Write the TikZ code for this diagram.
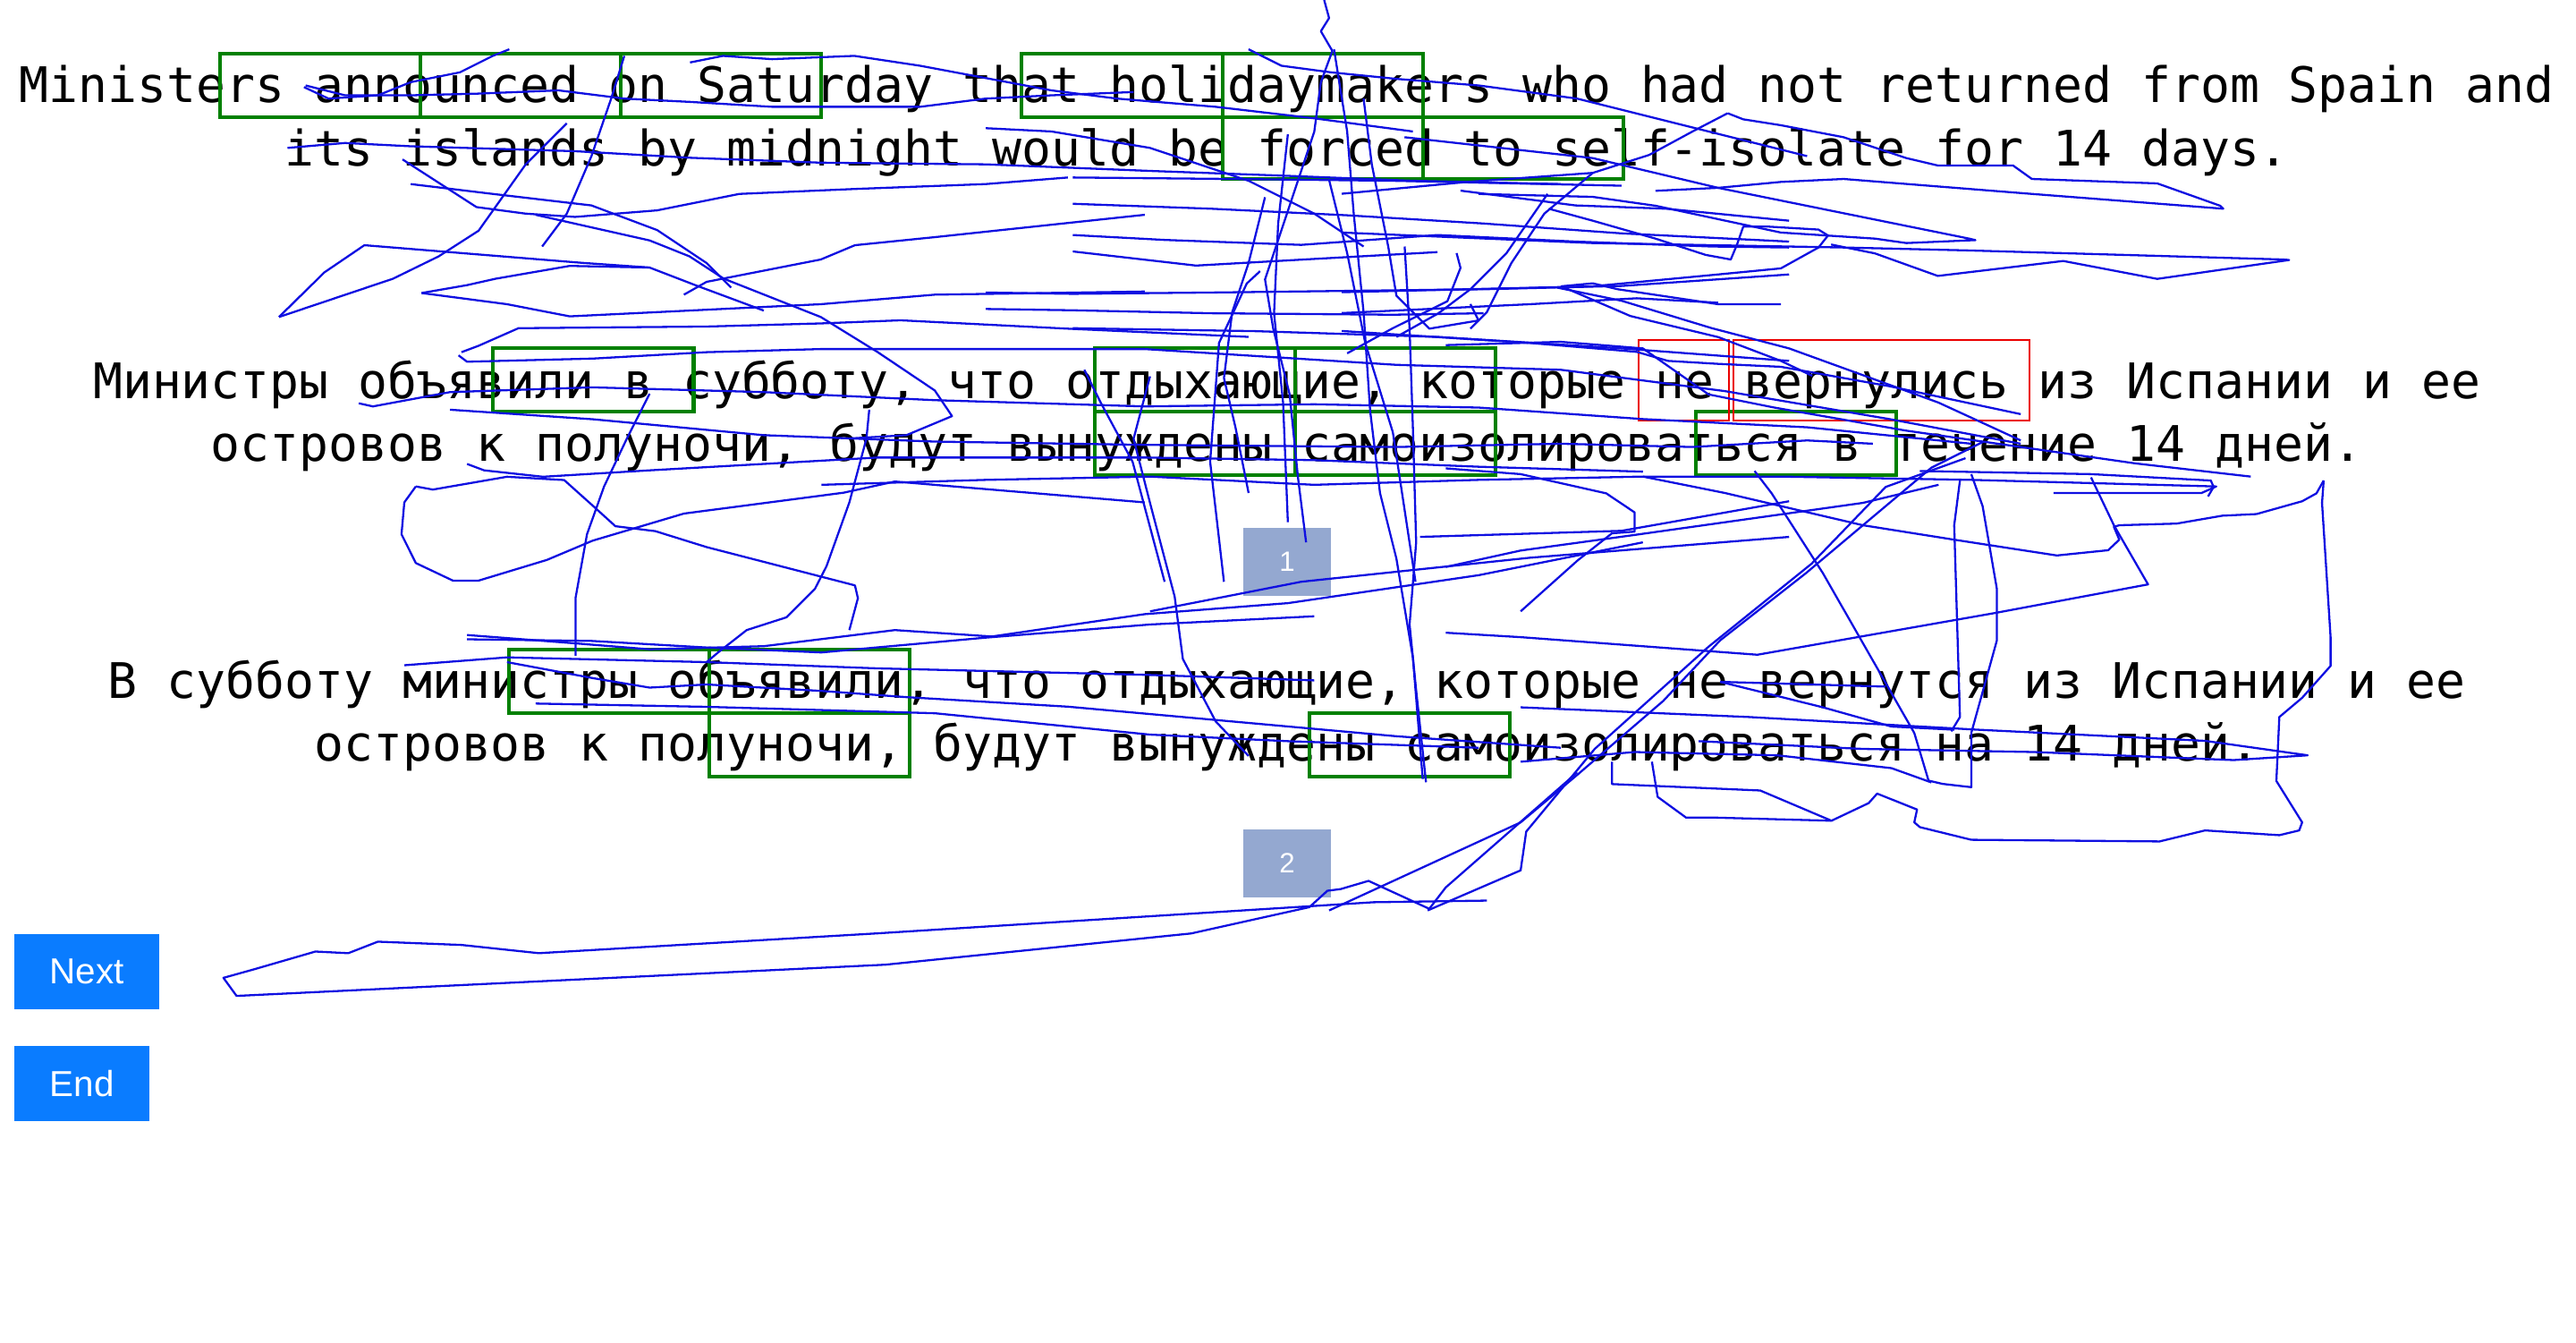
\documentclass[tikz,border=0pt]{standalone}
\usepackage{fontspec}
\setmainfont{Liberation Sans}
\newfontfamily\monofam{DejaVu Sans Mono}
\definecolor{boxgreen}{RGB}{0,128,0}
\definecolor{boxred}{RGB}{235,0,0}
\definecolor{gazeblue}{RGB}{15,15,225}
\definecolor{btnblue}{RGB}{10,124,255}
\definecolor{numgrey}{RGB}{148,168,208}
\begin{document}
\begin{tikzpicture}[x=1pt,y=-1pt,
  txt/.style={font=\monofam\fontsize{29.8}{36}\selectfont, inner sep=0pt, anchor=base},
  gbox/.style={draw=boxgreen, line width=2.2pt},
  rbox/.style={draw=boxred, line width=1.1pt},
  gaze/.style={draw=gazeblue, line width=1.25pt, line join=round},
  numbox/.style={fill=numgrey, text=white, font=\fontsize{17}{20}\selectfont, minimum width=53pt, minimum height=41.5pt, inner sep=0pt},
  btn/.style={fill=btnblue, text=white, font=\fontsize{22}{26}\selectfont, minimum height=45.7pt, inner sep=0pt}]
\useasboundingbox[fill=white] (0,0) rectangle (1568,816.67);

% texts
\node[txt] (en1) at (783.3,62.5) {Ministers announced on Saturday that holidaymakers who had not returned from Spain and};
\node[txt] (en2) at (783.3,101.2) {its islands by midnight would be forced to self-isolate for 14 days.};
\node[txt] (ra1) at (783.3,242.3) {Министры объявили в субботу, что отдыхающие, которые не вернулись из Испании и ее};
\node[txt] (ra2) at (783.3,280.5) {островов к полуночи, будут вынуждены самоизолироваться в течение 14 дней.};
\node[txt] (rb1) at (783.3,424.7) {В субботу министры объявили, что отдыхающие, которые не вернутся из Испании и ее};
\node[txt] (rb2) at (783.3,462.8) {островов к полуночи, будут вынуждены самоизолироваться на 14 дней.};

% green boxes
\draw[gbox] (134,32.7) rectangle (256,71.1);
\draw[gbox] (256,32.7) rectangle (378,71.1);
\draw[gbox] (378,32.7) rectangle (500,71.1);
\draw[gbox] (622,32.7) rectangle (744,71.1);
\draw[gbox] (744,32.7) rectangle (866,71.1);
\draw[gbox] (744,71.1) rectangle (866,108.9);
\draw[gbox] (866,71.1) rectangle (988,108.9);

\draw[gbox] (300,212) rectangle (422.2,250.3);
\draw[gbox] (666.5,212) rectangle (788.5,250.3);
\draw[gbox] (788.5,212) rectangle (910.5,250.3);
\draw[gbox] (666.5,250.3) rectangle (788.5,289);
\draw[gbox] (788.5,250.3) rectangle (910.5,289);
\draw[gbox] (1032.5,250.3) rectangle (1154.3,289);

\draw[gbox] (310,395.4) rectangle (431.7,433.8);
\draw[gbox] (431.7,395.4) rectangle (553.7,433.8);
\draw[gbox] (431.7,433.8) rectangle (553.7,472.5);
\draw[gbox] (796.8,433.8) rectangle (919,472.5);

% red boxes
\draw[rbox] (997.5,207) rectangle (1052.5,256);
\draw[rbox] (1055,207) rectangle (1235.5,256);

% number boxes and buttons
\node[numbox] (n1) at (783.5,341.8) {1};
\node[numbox] (n2) at (783.5,525.4) {2};
\node[btn, minimum width=87.8pt] (next) at (52.8,591.2) {Next};
\node[btn, minimum width=82.1pt] (end) at (49.95,659.4) {End};

% ---------- gaze scan path ----------
% English lines
\draw[gaze] (185,53)--(200,60)--(230,58)--(250,50)--(280,44)--(300,34)--(310,30);
\draw[gaze] (186,52)--(210,58)--(250,58)--(290,57)--(340,55)--(380,60)--(420,62)--(470,65)--(560,65)--(600,60)--(640,58)--(690,56);
\draw[gaze] (420,38)--(440,34)--(470,36)--(520,34)--(560,40)--(640,55)--(680,60)--(740,65)--(800,72)--(860,80);
\draw[gaze] (175,90)--(210,87)--(250,89)--(350,92)--(420,96)--(500,99)--(600,100)--(700,104)--(784,107)--(860,110)--(950,112);
\draw[gaze] (245,97)--(290,126)--(320,130)--(350,132)--(400,128)--(450,118)--(520,115)--(600,112)--(650,108);
\draw[gaze] (250,112)--(300,118)--(360,125)--(400,140)--(430,160)--(445,175);
\draw[gaze] (600,78)--(640,80)--(700,90)--(760,110)--(800,130)--(830,150);
\draw[gaze] (760,30)--(780,40)--(810,44)--(850,48)--(900,52)--(960,60)--(1000,70)--(1040,80)--(1100,95);
\draw[gaze] (380,34)--(372,60)--(360,95)--(345,130)--(330,150);
\draw[gaze] (1051.6,68.9)--(1061.1,72.6)--(1084,76.2)--(1122.2,83.5)--(1160.4,96.2)--(1179.5,100.7)--(1225.3,100.7)--(1236.8,108.9)--(1313.1,111.6)--(1351.4,125.2)--(1353.3,127)--(1236.8,118)--(1122.2,108.9)--(1084,110.7)--(1045.8,114.3)--(1007.7,116.1);
\draw[gaze] (1051.6,68.9)--(1030.6,79.8)--(1003.8,94.3)--(969.5,105.2)--(893.1,110.7)--(816.7,117.9);
\draw[gaze] (854.9,83.5)--(969.5,96.2)--(1045.8,114.3)--(1198.6,145.2)--(1202.4,146.1)--(1160.4,147.9)--(1141.3,145.2)--(1084,141.5)--(1007.7,125.2)--(969.5,119.8)--(900,118);
\draw[gaze] (816.7,141.5)--(969.5,147.9)--(1122.2,150.6)--(1198.6,152.4)--(1389.6,157.9)--(1393.4,158.2)--(1313.1,169.7)--(1255.9,158.8)--(1179.5,167.9)--(1141.3,154.2)--(1114.6,148.8);
\draw[gaze] (942.7,127)--(969.5,134.3)--(1007.7,145.2)--(1038.2,155.1)--(1053.5,157.9)--(1057.3,148.8)--(1061.1,137.9)--(1076.4,137.9)--(1106.9,139.7)--(1112.7,143.3)--(1106.9,150.6)--(1084,163.3)--(1045.8,167)--(969.5,174.2)--(893.1,176)--(816.7,177.8);
\draw[gaze] (1084,185.1)--(1045.8,185.1)--(984.7,176)--(969.5,172.4)--(950.4,174.2)--(992.4,192.3)--(1045.8,205.1)--(1084,219.6)--(1103.1,228.7);
\draw[gaze] (816.7,190.5)--(931.3,185.1)--(996.2,181.5)--(1045.8,184.2);
\draw[gaze] (816.7,201.4)--(931.3,208.7)--(996.2,214.1)--(1015.3,219.6)--(1045.8,221.4)--(1084,223.2)--(1150,235)--(1230,252);
\draw[gaze] (969.5,105.2)--(940,130)--(920,160)--(905,190)--(895,200);
% central cluster
\draw[gaze] (806,0)--(809,11)--(804,19)--(811,31)--(804,50)--(800,80)--(790,110)--(780,140)--(770,170)--(775,200)--(785,240)--(790,290)--(795,330);
\draw[gaze] (812,30)--(820,80)--(824,130)--(830,190)--(834,250)--(840,300)--(850,340)--(860,400)--(866,474);
\draw[gaze] (855,150)--(858,200)--(860,260)--(862,330)--(858,380)--(862,420)--(868,476);
\draw[gaze] (770,120)--(760,160)--(750,190)--(745,230)--(752,260)--(760,300);
\draw[gaze] (830,60)--(835,100)--(845,150)--(850,180)--(870,200)--(900,195)--(895,185);
\draw[gaze] (653,108)--(760,109)--(848,110)--(987,113);
\draw[gaze] (653,124)--(737,127)--(820,131)--(903,136)--(987,142)--(1089,147);
\draw[gaze] (653,143)--(709,146)--(792,149)--(875,143)--(959,147)--(1042,150)--(1089,150.6);
\draw[gaze] (653,153)--(728,161.6)--(792,158)--(875,153.4);
\draw[gaze] (600,178)--(653,178.8)--(737,178)--(820,177)--(903,176)--(987,174)--(1089,167);
\draw[gaze] (600,188)--(653,188.8)--(737,190.6)--(848,191.5)--(903,190.6);
\draw[gaze] (653,199.7)--(764,201.5)--(875,205)--(987,212)--(1089,219.6);
\draw[gaze] (947.8,175)--(987,183)--(1042,199.7)--(1089,212)--(1180,245)--(1230,268);
\draw[gaze] (889,116)--(959,125)--(1014,127)--(1089,134.3);
\draw[gaze] (783.9,81.7)--(778,136)--(775.5,190.6)--(781,245)--(783.9,317.7);
\draw[gaze] (808.9,109)--(820,154)--(831,208.7)--(847.8,263)--(861.6,354);
\draw[gaze] (745,354)--(736.6,281)--(742,208.7)--(758.9,172.5)--(767,165);
\draw[gaze] (708.9,354)--(689.4,281)--(670,245)--(660,225);
\draw[gaze] (886.6,154)--(889,163)--(881,183.3)--(847.8,199.7)--(820,215);
\draw[gaze] (942,118)--(917,154)--(895,176)--(875.6,190.6)--(850,205);
\draw[gaze] (1089,305)--(987,323)--(864.4,326.7);
\draw[gaze] (1089,326.7)--(931,339.4)--(792,354)--(700,372);
% left part, Russian paragraph 1
\draw[gaze] (169.8,192.9)--(197.5,165.7)--(221.8,149.2)--(353.8,159.9)--(395.4,162.8)--(423.2,173.5)--(464.9,189);
\draw[gaze] (169.8,192.9)--(239.2,169.6)--(267,156)--(291.3,140.4)--(298.2,130.7)--(320,100)--(345,75);
\draw[gaze] (256.6,178.3)--(284.3,173.5)--(301.7,169.6)--(346.8,161.8)--(395.4,162.8);
\draw[gaze] (256.6,178.3)--(308.6,185.1)--(346.8,192.5)--(499.6,185.1)--(569,179.3)--(696.8,177.4);
\draw[gaze] (326,130.7)--(395.4,146.3)--(419.7,156)--(440.6,169.6)--(499.6,192.9)--(534.3,214.3)--(569,237.6)--(579.5,253.2)--(551.7,264.8)--(517,266.8);
\draw[gaze] (416.3,179.3)--(430.1,171.5)--(499.6,157.9)--(520.4,149.2)--(569,144.3)--(696.8,130.7);
\draw[gaze] (280.9,214.3)--(291.3,210.4)--(315.6,199.7)--(430.1,198.7)--(499.6,196.8)--(548.2,194.9)--(650,200)--(760,205);
\draw[gaze] (279.1,216.2)--(284.3,220.1)--(360.7,218.2)--(430.1,214.3)--(499.6,212.4)--(569,212.4)--(696.8,212.4)--(850,222)--(950,225)--(1050,238)--(1150,255)--(1230,270);
\draw[gaze] (218.4,245.4)--(227,247.3)--(273.9,238.6)--(360.7,235.7)--(464.9,238.6)--(569,243.5)--(696.8,247.3)--(800,246)--(900,248)--(1000,255)--(1100,260)--(1200,270);
\draw[gaze] (273.9,249.3)--(360.7,255.1)--(464.9,264.8)--(569,268.7)--(696.8,270.7)--(850,272)--(950,270)--(1030,272)--(1100,268)--(1140,270);
\draw[gaze] (284.3,282.3)--(294.7,286.2)--(330.5,290.1)--(395.4,286.2)--(534.3,278.4)--(696.8,278.4)--(800,280)--(900,284)--(1000,287);
\draw[gaze] (500,295)--(600,292)--(700,290)--(800,295)--(900,292)--(1000,290)--(1084,290)--(1200,292)--(1349,296)--(1340,300)--(1250,300);
\draw[gaze] (880,210)--(950,208)--(1000,212)--(1040,240)--(1080,248)--(1160,262)--(1300,282)--(1370,290);
\draw[gaze] (395.4,239.6)--(381.6,266.8)--(367.7,296)--(357.3,325.1)--(350.3,364)--(350.3,399);
\draw[gaze] (529.1,249.3)--(527.4,266.8)--(517,305.7)--(503.1,344.5)--(496.1,358.2)--(478.8,375.6)--(454.5,383.4)--(437.1,397)--(430.1,402.9);
\draw[gaze] (253.1,296)--(246.1,305.7)--(244.4,325.1)--(253.1,342.6)--(275.7,353.3)--(291.3,353.3)--(332.9,340.7)--(360.7,329)--(416.3,312.5)--(513.5,299.8)--(544.7,293)--(696.8,305.7);
\draw[gaze] (253.1,296)--(263.5,297.9)--(308.6,290.1)--(343.4,292.1)--(360.7,307.6)--(374.6,320.2)--(398.9,323.2)--(430.1,332.9)--(520.4,356.2)--(522.2,364)--(517,383.4);
% Russian paragraph 2
\draw[gaze] (284.3,386.4)--(346.8,391.2)--(395.4,395.1)--(464.9,393.2)--(544.7,383.4)--(603.8,387.3)--(696.8,373.7)--(784,367)--(900,350)--(1000,330);
\draw[gaze] (284.3,389)--(360,390)--(430,394)--(500,397)--(600,388)--(700,380)--(800,375);
\draw[gaze] (246.1,404.8)--(308.6,400)--(346.8,400.9)--(430.1,402.9)--(534.3,406.7)--(696.8,410.6)--(800,414);
\draw[gaze] (308.6,402.9)--(360.7,412.6)--(395.4,418.4)--(430.1,416.5)--(499.6,420.4)--(551.7,424.2)--(650,430)--(750,439)--(850,448)--(950,455);
\draw[gaze] (326,428.1)--(430.1,430.1)--(569,434)--(700,447)--(784,451)--(900,455);
\draw[gaze] (700,229)--(690,267)--(700,306)--(715,363)--(720,401)--(740,439)--(760,460);
% right part
\draw[gaze] (1414.4,292.4)--(1413.4,306)--(1418.6,387.7)--(1418.6,405.2)--(1401.3,424.6)--(1387.4,436.3)--(1385.6,475.2)--(1401.3,500.4)--(1399.5,505.3)--(1387.4,508.2)--(1342.2,505.3)--(1314.5,512)--(1199.9,511)--(1168.6,503.3)--(1165.2,500.4)--(1166.9,492.6)--(1142.6,482.9)--(1137.4,488.7)--(1114.8,499.4)--(1043.6,497.5)--(1026.3,497.5)--(1009,484.9)--(1005.5,463.5);
\draw[gaze] (1414.4,292.4)--(1410,300.2)--(1401.3,305)--(1373.5,312.8)--(1352.7,313.8)--(1324.9,318.6)--(1290,319.6)--(1286.7,320.6)--(1290,328.4)--(1283.2,334.8)--(1252,338)--(1189.5,328.4)--(1133.9,319.6)--(1050,300)--(1000,290);
\draw[gaze] (1272.8,290.5)--(1286.7,319.6)--(1307.5,355.6)--(1213.8,373.1)--(1069.7,398.4)--(925.6,387.7)--(880,385);
\draw[gaze] (1193,292.4)--(1189.5,319.6)--(1193,436.3)--(1187.7,445);
\draw[gaze] (1199.9,288.5)--(1206.8,308)--(1215.5,358.5)--(1215.5,389.6)--(1199.9,446)--(1199.9,479)--(1182.5,477)--(1173.9,475)--(1165.2,446)--(1109.6,348.8)--(1078.4,300.2)--(1068,286.6);
\draw[gaze] (869,554)--(925.6,529.6)--(929,506)--(970.7,455.7)--(1040,393.5)--(1102.7,343)--(1147.8,296.3)--(1196.4,278.8);
\draw[gaze] (809,554)--(925.6,500.4)--(960.3,471.3)--(1012.4,426.5)--(1047.1,389.6)--(1099.2,348.8)--(1175.6,284.6)--(1206.8,269);
\draw[gaze] (925.6,372)--(960.3,341)--(981.2,324.5)--(995,323.5)--(995,311.8)--(977.7,300.2)--(925.6,288.5)--(880,285);
\draw[gaze] (880,345)--(925.6,335)--(995,325.5)--(1133.9,306)--(1180,295);
\draw[gaze] (1168.6,286.6)--(1272.8,288.5)--(1345.7,292.4)--(1347.4,296.3)--(1344,302.1);
\draw[gaze] (925.6,430.4)--(1064.5,436.3)--(1203.4,444)--(1342.2,450.8)--(1404.7,459.6)--(1359.6,462.5)--(1238,457.6)--(1133.9,455.7)--(1034,451);
\draw[gaze] (925.6,463.5)--(995,457.6)--(1081.8,459.6)--(1151.3,467.4)--(1175.6,476.1);
\draw[gaze] (1047.1,414.9)--(1147.8,417.8);
\draw[gaze] (1047.1,414.9)--(1109.6,430.4)--(1151.3,442.1)--(1189.5,444);
\draw[gaze] (981.2,463.5)--(981.2,477.1)--(1071.4,481)--(1114.8,499.4);
% bottom lasso
\draw[gaze] (905,548)--(836,549)--(533,568)--(328,580)--(281,575)--(230,573)--(212,580)--(192,579)--(154,590)--(136,595)--(144,606)--(539,587)--(725,568)--(797,552)--(808,542)--(816,541)--(833,536)--(870,553)--(880,540)--(960,470);
\end{tikzpicture}
\end{document}
